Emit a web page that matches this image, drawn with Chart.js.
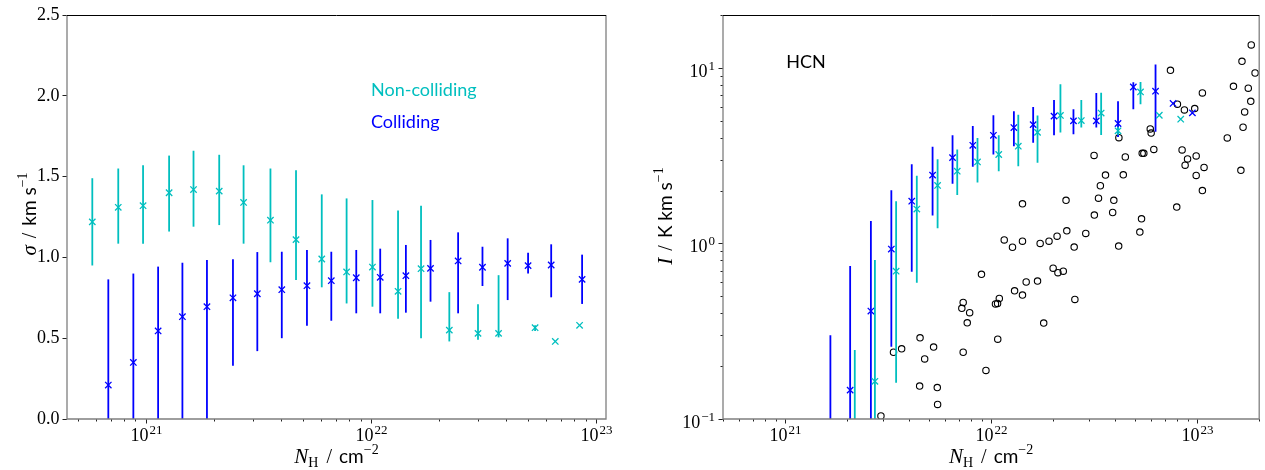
<!DOCTYPE html>
<html>
<head>
<meta charset="utf-8">
<script src="https://cdn.jsdelivr.net/npm/chart.js@4"></script>
<style>
  html, body { margin: 0; padding: 0; background: #fff; }
  #wrap { position: relative; width: 1265px; height: 470px; }
  .panel { position: absolute; top: 0; height: 470px; }
</style>
</head>
<body>
<div id="wrap">
  <div class="panel" style="left:0;width:632px"><canvas id="sigma" width="632" height="470"></canvas></div>
  <div class="panel" style="left:632px;width:633px"><canvas id="hcn" width="633" height="470"></canvas></div>
</div>
<script>
// ---- left panel: velocity dispersion vs column density ----
const sigNonX  = [5.79e20, 7.55e20, 9.73e20, 1.27e21, 1.63e21, 2.12e21, 2.72e21, 3.58e21, 4.65e21, 6.05e21, 7.80e21, 1.016e22, 1.32e22, 1.67e22, 2.23e22, 2.99e22, 3.69e22, 5.36e22, 6.59e22, 8.45e22];
const sigNonY  = [1.22, 1.31, 1.32, 1.40, 1.42, 1.41, 1.34, 1.23, 1.11, 0.99, 0.91, 0.94, 0.79, 0.93, 0.55, 0.53, 0.53, 0.565, 0.48, 0.58];
const sigNonLo = [0.95, 1.085, 1.085, 1.16, 1.19, 1.20, 1.085, 0.97, 0.86, 0.815, 0.715, 0.695, 0.62, 0.50, 0.48, 0.49, 0.505, 0.545, 0.48, 0.58];
const sigNonHi = [1.49, 1.55, 1.57, 1.63, 1.66, 1.635, 1.57, 1.55, 1.54, 1.39, 1.365, 1.355, 1.29, 1.32, 0.785, 0.71, 0.89, 0.58, 0.48, 0.58];

const sigColX  = [6.82e20, 8.81e20, 1.135e21, 1.455e21, 1.87e21, 2.44e21, 3.13e21, 4.02e21, 5.20e21, 6.67e21, 8.61e21, 1.10e22, 1.43e22, 1.84e22, 2.44e22, 3.13e22, 4.05e22, 4.99e22, 6.32e22, 8.67e22];
const sigColY  = [0.21, 0.35, 0.545, 0.633, 0.695, 0.75, 0.775, 0.80, 0.825, 0.856, 0.874, 0.877, 0.887, 0.932, 0.978, 0.939, 0.963, 0.949, 0.953, 0.864];
const sigColLo = [0, 0, 0, 0, 0, 0.33, 0.42, 0.50, 0.577, 0.608, 0.654, 0.654, 0.658, 0.726, 0.654, 0.823, 0.736, 0.901, 0.753, 0.712];
const sigColHi = [0.864, 0.90, 0.943, 0.967, 0.984, 0.988, 1.033, 1.035, 1.046, 1.035, 1.046, 1.054, 1.077, 1.108, 1.155, 1.066, 1.118, 1.029, 1.081, 1.017];

// ---- right panel: HCN integrated intensity vs column density ----
const hcnNonX  = [2.18e21, 2.73e21, 3.46e21, 4.36e21, 5.50e21, 6.85e21, 8.59e21, 1.089e22, 1.355e22, 1.68e22, 2.17e22, 2.74e22, 3.42e22, 4.13e22, 5.31e22, 6.55e22, 8.32e22];
const hcnNonY  = [0.05, 0.164, 0.695, 1.57, 2.14, 2.58, 2.91, 3.21, 3.58, 4.29, 5.36, 5.01, 5.53, 4.38, 7.29, 5.37, 5.10];
const hcnNonLo = [0.01, 0.01, 0.161, 0.597, 1.22, 1.89, 2.22, 2.58, 2.75, 2.88, 4.29, 4.57, 4.15, 4.15, 6.21, 5.37, 5.10];
const hcnNonHi = [0.247, 0.804, 1.74, 2.43, 3.02, 3.43, 3.99, 4.13, 5.40, 5.36, 8.07, 6.55, 7.22, 4.60, 8.32, 5.37, 5.10];

const hcnColX  = [1.66e21, 2.07e21, 2.61e21, 3.28e21, 4.12e21, 5.20e21, 6.50e21, 8.15e21, 1.026e22, 1.29e22, 1.60e22, 2.02e22, 2.51e22, 3.24e22, 4.13e22, 4.90e22, 6.28e22, 7.64e22, 9.48e22];
const hcnColY  = [0.06, 0.146, 0.412, 0.929, 1.74, 2.45, 3.08, 3.62, 4.13, 4.57, 4.75, 5.31, 4.99, 4.99, 4.82, 7.78, 7.36, 6.27, 5.54];
const hcnColLo = [0.01, 0.01, 0.01, 0.258, 0.689, 1.44, 2.19, 2.73, 3.21, 3.58, 3.74, 4.13, 4.19, 4.57, 4.04, 5.81, 4.32, 6.27, 5.54];
const hcnColHi = [0.30, 0.743, 1.34, 2.01, 2.82, 3.55, 4.13, 4.67, 5.37, 5.66, 5.99, 6.55, 5.81, 7.19, 6.46, 8.28, 10.45, 6.27, 5.54];

// individual sightlines (open circles)
const lineNH = [2.92e21, 3.36e21, 3.68e21, 4.52e21, 4.76e21, 5.26e21, 4.50e21, 5.48e21, 5.50e21, 7.32e21,
  7.32e21, 7.21e21, 7.87e21, 7.66e21, 8.98e21, 9.44e21, 1.05e22, 1.075e22, 1.096e22, 1.077e22,
  1.158e22, 1.27e22, 1.30e22, 1.42e22, 1.42e22, 1.42e22, 1.48e22, 1.68e22, 1.73e22, 1.80e22,
  1.91e22, 2.09e22, 2.00e22, 2.11e22, 2.24e22, 2.31e22, 2.33e22, 2.53e22, 2.55e22, 2.88e22,
  3.16e22, 3.17e22, 3.32e22, 3.39e22, 3.59e22, 3.89e22, 3.94e22, 4.16e22, 4.17e22, 4.38e22,
  4.48e22, 5.27e22, 5.37e22, 5.41e22, 5.51e22, 5.92e22, 5.98e22, 6.16e22, 7.42e22, 7.96e22,
  8.02e22, 8.45e22, 8.67e22, 8.74e22, 8.98e22, 9.73e22, 9.89e22, 9.89e22, 1.06e23, 1.06e23,
  1.08e23, 1.40e23, 1.50e23, 1.63e23, 1.65e23, 1.67e23, 1.70e23, 1.77e23, 1.82e23, 1.83e23, 1.91e23];
const lineI = [0.104, 0.240, 0.251, 0.290, 0.220, 0.257, 0.154, 0.151, 0.121, 0.240,
  0.461, 0.427, 0.403, 0.353, 0.667, 0.189, 0.452, 0.455, 0.486, 0.285,
  1.047, 0.951, 0.537, 1.68, 1.03, 0.508, 0.603, 0.610, 1.00, 0.352,
  1.03, 1.10, 0.723, 0.681, 0.695, 1.76, 1.18, 0.953, 0.480, 1.14,
  3.17, 1.45, 1.81, 2.13, 2.45, 1.50, 1.76, 0.966, 4.00, 2.46,
  3.11, 1.16, 1.38, 3.26, 3.26, 4.49, 4.25, 3.43, 9.68, 1.61,
  6.21, 3.41, 5.76, 2.79, 3.03, 5.86, 3.15, 2.44, 7.20, 2.00,
  2.71, 3.99, 7.85, 2.61, 10.9, 4.59, 5.61, 7.66, 6.45, 13.5, 9.35];

const CYAN = '#00bfbf';
const BLUE = '#0000ff';
const SERIF = '"Liberation Serif", "DejaVu Serif", serif';
const SANS = 'Lato, "Open Sans", sans-serif';

const pts = (xs, ys) => xs.map((x, i) => ({ x: x, y: ys[i] }));

// draw a row of text pieces centred on (x, y), optionally rotated
function drawRich(ctx, parts, x, y, rot) {
  ctx.save();
  ctx.translate(x, y);
  if (rot) ctx.rotate(rot);
  let total = 0;
  parts.forEach(p => {
    ctx.font = p.font;
    p.w = ctx.measureText(p.text).width;
    total += p.w + (p.gap || 0);
  });
  let cx = -total / 2;
  ctx.textAlign = 'left';
  ctx.textBaseline = 'alphabetic';
  ctx.fillStyle = '#000';
  parts.forEach(p => {
    cx += p.gap || 0;
    ctx.font = p.font;
    ctx.fillText(p.text, cx, p.dy || 0);
    cx += p.w;
  });
  ctx.restore();
}

// "10^n" label; align 'center' at x or 'right' ending at x
function drawPow(ctx, exp, x, y, align) {
  const sup = exp < 0 ? '\u2212' + (-exp) : String(exp);
  ctx.font = '18px ' + SERIF;
  const wb = ctx.measureText('10').width + 1;
  ctx.font = '13px ' + SERIF;
  const ws = ctx.measureText(sup).width;
  const left = align === 'right' ? x - wb - ws : x - (wb + ws) / 2;
  ctx.fillStyle = '#000';
  ctx.textAlign = 'left';
  ctx.textBaseline = 'alphabetic';
  ctx.font = '18px ' + SERIF;
  ctx.fillText('10', left, y);
  ctx.font = '13px ' + SERIF;
  ctx.fillText(sup, left + wb, y - 7);
}

function logTicks(min, max) {
  const out = [];
  for (let e = Math.floor(Math.log10(min)); e <= Math.ceil(Math.log10(max)); e++) {
    for (let k = 1; k <= 9; k++) {
      const v = k * Math.pow(10, e);
      if (v >= min * 0.999 && v <= max * 1.001) out.push({ v: v, e: e, major: k === 1 });
    }
  }
  return out;
}

const decoPlugin = {
  id: 'deco',
  beforeDatasetDraw(chart, args) {
    const ds = chart.data.datasets[args.index];
    if (!ds.errLo) return;
    const ctx = chart.ctx, a = chart.chartArea;
    const xs = chart.scales.x, ys = chart.scales.y;
    ctx.save();
    ctx.beginPath();
    ctx.rect(a.left, a.top, a.right - a.left, a.bottom - a.top);
    ctx.clip();
    ctx.strokeStyle = ds.borderColor;
    ctx.lineWidth = 1.8;
    ds.data.forEach((p, i) => {
      const lo = ds.errLo[i], hi = ds.errHi[i];
      if (hi - lo <= 0) return;
      const px = xs.getPixelForValue(p.x);
      ctx.beginPath();
      ctx.moveTo(px, ys.getPixelForValue(lo));
      ctx.lineTo(px, ys.getPixelForValue(hi));
      ctx.stroke();
    });
    ctx.restore();
  },
  afterDraw(chart, args, opts) {
    const ctx = chart.ctx, a = chart.chartArea;
    const xs = chart.scales.x, ys = chart.scales.y;
    ctx.save();
    ctx.strokeStyle = '#222';
    ctx.lineWidth = 1;
    // x ticks (log)
    logTicks(xs.min, xs.max).forEach(t => {
      const px = Math.round(xs.getPixelForValue(t.v)) + 0.5;
      ctx.beginPath();
      ctx.moveTo(px, a.bottom);
      ctx.lineTo(px, a.bottom + (t.major ? 4.5 : 2.5));
      ctx.stroke();
      if (t.major) drawPow(ctx, t.e, px, 441, 'center');
    });
    // y ticks (log) for the right panel
    if (opts.logY) {
      logTicks(ys.min, ys.max).forEach(t => {
        const py = Math.round(ys.getPixelForValue(t.v)) + 0.5;
        ctx.beginPath();
        ctx.moveTo(a.left, py);
        ctx.lineTo(a.left - (t.major ? 4.5 : 2.5), py);
        ctx.stroke();
        if (t.major) drawPow(ctx, t.e, a.left - 8, py + 8, 'right');
      });
    }
    // axis titles
    const cxMid = (a.left + a.right) / 2;
    drawRich(ctx, [
      { text: 'N', font: 'italic 21px ' + SERIF },
      { text: 'H', font: '14px ' + SERIF, dy: 4 },
      { text: '/', font: '20px ' + SERIF, gap: 8 },
      { text: 'cm', font: '19px ' + SANS, gap: 7 },
      { text: '\u22122', font: '14px ' + SERIF, dy: -9 }
    ], cxMid, 463, 0);
    drawRich(ctx, opts.yTitle, opts.yTitleX, opts.yTitleY, -Math.PI / 2);
    // text notes inside the axes
    (opts.notes || []).forEach(n => {
      ctx.font = '18px ' + SANS;
      ctx.fillStyle = n.color;
      ctx.textAlign = 'left';
      ctx.textBaseline = 'alphabetic';
      ctx.fillText(n.text, a.left + n.fx * (a.right - a.left), a.top + n.fy * (a.bottom - a.top));
    });
    // frame
    ctx.strokeStyle = '#7f7f7f';
    ctx.lineWidth = 1.3;
    ctx.beginPath();
    ctx.moveTo(a.left, a.top);
    ctx.lineTo(a.left, a.bottom);
    ctx.lineTo(a.right, a.bottom);
    ctx.lineTo(a.right, a.top);
    ctx.stroke();
    ctx.strokeStyle = '#000';
    ctx.lineWidth = 1;
    ctx.beginPath();
    ctx.moveTo(a.left, a.top + 0.5);
    ctx.lineTo(a.right, a.top + 0.5);
    ctx.stroke();
    ctx.restore();
  }
};

const crossStyle = color => ({
  backgroundColor: color,
  borderColor: color,
  pointStyle: 'crossRot',
  pointRadius: 4.5,
  pointBorderWidth: 1.3,
  showLine: false
});

const logX = (min, max) => ({
  type: 'logarithmic',
  min: min,
  max: max,
  grid: { display: false },
  border: { display: false },
  ticks: { display: false, autoSkip: false },
  afterFit: s => { s.height = 51; }
});

// ---- left chart ----
new Chart(document.getElementById('sigma'), {
  type: 'scatter',
  data: {
    datasets: [
      Object.assign({ label: 'Colliding', data: pts(sigColX, sigColY), errLo: sigColLo, errHi: sigColHi }, crossStyle(BLUE)),
      Object.assign({ label: 'Non-colliding', data: pts(sigNonX, sigNonY), errLo: sigNonLo, errHi: sigNonHi }, crossStyle(CYAN))
    ]
  },
  options: {
    responsive: false,
    devicePixelRatio: 1,
    animation: false,
    events: [],
    layout: { padding: { top: 15, right: 26, left: 0, bottom: 0 } },
    plugins: {
      legend: { display: false },
      tooltip: { enabled: false },
      deco: {
        logY: false,
        yTitleX: 36,
        yTitleY: 214,
        yTitle: [
          { text: '\u03c3', font: 'italic 21px ' + SERIF },
          { text: '/', font: '20px ' + SERIF, gap: 7 },
          { text: 'km s', font: '19px ' + SANS, gap: 7 },
          { text: '\u22121', font: '14px ' + SERIF, dy: -9 }
        ],
        notes: [
          { text: 'Non-colliding', color: CYAN, fx: 0.564, fy: 0.2005 },
          { text: 'Colliding', color: BLUE, fx: 0.564, fy: 0.2805 }
        ]
      }
    },
    scales: {
      x: logX(4.47e20, 1.107e23),
      y: {
        type: 'linear',
        min: 0,
        max: 2.5,
        grid: { drawOnChartArea: false, drawTicks: true, tickLength: 4.5, tickColor: '#222' },
        border: { display: false },
        ticks: {
          stepSize: 0.5,
          padding: 3,
          color: '#000',
          font: { family: SERIF, size: 18 },
          callback: v => v.toFixed(1)
        },
        afterFit: s => { s.width = 67; }
      }
    }
  },
  plugins: [decoPlugin]
});

// ---- right chart ----
new Chart(document.getElementById('hcn'), {
  type: 'scatter',
  data: {
    datasets: [
      Object.assign({ label: 'Non-colliding', data: pts(hcnNonX, hcnNonY), errLo: hcnNonLo, errHi: hcnNonHi }, crossStyle(CYAN)),
      Object.assign({ label: 'Colliding', data: pts(hcnColX, hcnColY), errLo: hcnColLo, errHi: hcnColHi }, crossStyle(BLUE)),
      {
        label: 'Sightlines',
        data: pts(lineNH, lineI),
        pointStyle: 'circle',
        pointRadius: 3.2,
        pointBorderWidth: 1.1,
        borderColor: '#000',
        backgroundColor: 'rgba(0,0,0,0)',
        showLine: false
      }
    ]
  },
  options: {
    responsive: false,
    devicePixelRatio: 1,
    animation: false,
    events: [],
    layout: { padding: { top: 15, right: 3, left: 0, bottom: 0 } },
    plugins: {
      legend: { display: false },
      tooltip: { enabled: false },
      deco: {
        logY: true,
        yTitleX: 40,
        yTitleY: 216,
        yTitle: [
          { text: 'I', font: 'italic 21px ' + SERIF },
          { text: '/', font: '20px ' + SERIF, gap: 7 },
          { text: 'K km s', font: '19px ' + SANS, gap: 7 },
          { text: '\u22121', font: '14px ' + SERIF, dy: -9 }
        ],
        notes: [
          { text: 'HCN', color: '#000', fx: 0.118, fy: 0.132 }
        ]
      }
    },
    scales: {
      x: logX(5e20, 2e23),
      y: {
        type: 'logarithmic',
        min: 0.1,
        max: 20,
        grid: { display: false },
        border: { display: false },
        ticks: { display: false, autoSkip: false },
        afterFit: s => { s.width = 91; }
      }
    }
  },
  plugins: [decoPlugin]
});
</script>
</body>
</html>
